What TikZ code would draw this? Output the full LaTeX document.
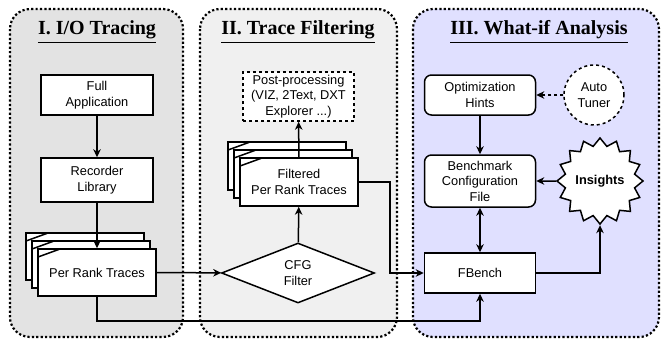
\documentclass[tikz,border=0pt]{standalone}
\usepackage{fontspec}
\setmainfont{Liberation Sans}
\newfontfamily\titleserif{Liberation Serif}
\usetikzlibrary{shapes.geometric,arrows.meta}
\definecolor{panelA}{RGB}{227,227,227}
\definecolor{panelB}{RGB}{240,240,240}
\definecolor{panelC}{RGB}{224,224,255}
\tikzset{
  panel/.style={rounded corners=20pt, line width=2.2pt, dash pattern=on 2.2pt off 2.2pt},
  ptitle/.style={font=\titleserif\bfseries\fontsize{20}{24}\selectfont, inner sep=0pt, anchor=base},
  box/.style={draw, fill=white, line width=1.5pt, align=center, inner sep=0pt,
    font=\fontsize{12.8}{15.5}\selectfont},
  rbox/.style={box, rounded corners=7pt},
  layer/.style={draw, fill=white, line width=1.5pt},
  arr/.style={line width=1.5pt, -{Stealth[length=8pt,width=7.5pt,inset=2.5pt]}},
  darr/.style={line width=1.5pt, {Stealth[length=8pt,width=7.5pt,inset=2.5pt]}-{Stealth[length=8pt,width=7.5pt,inset=2.5pt]}},
}
\begin{document}
\begin{tikzpicture}[x=1pt,y=-1pt]
\useasboundingbox (0,0) rectangle (661,340);
% panels
\draw[panel, fill=panelA] (10,9) rectangle (183,337);
\draw[panel, fill=panelB] (200,9) rectangle (397,337);
\draw[panel, fill=panelC] (413,9) rectangle (659,337);
% titles
\node[ptitle] (t1) at (97,34) {I. I/O Tracing};
\node[ptitle] (t2) at (298,34) {II. Trace Filtering};
\node[ptitle] (t3) at (539,34) {III. What-if Analysis};
\foreach \t in {t1,t2,t3}
  \draw[line width=1pt] ([yshift=-8pt]\t.base west) -- ([yshift=-8pt]\t.base east);
% panel I
\node[box, minimum width=112pt, minimum height=40pt] (fa) at (97,95) {Full\\Application};
\node[box, minimum width=112pt, minimum height=44pt] (rl) at (97,180) {Recorder\\Library};
\draw[layer] (26,233) rectangle (144,280);
\draw[line width=1.5pt] (26,241) -- (48,233);
\draw[layer] (32,241) rectangle (150,288);
\draw[line width=1.5pt] (32,249) -- (54,241);
\node[box, minimum width=118pt, minimum height=47pt] (prt) at (97,272.5) {Per Rank Traces};
\draw[line width=1.5pt] (38,257) -- (60,249);
% panel II
\node[box, dashed, dash pattern=on 3pt off 3pt, minimum width=111pt, minimum height=49pt] (pp) at (298.5,96.5) {Post-processing\\(VIZ, 2Text, DXT\\Explorer ...)};
\draw[layer] (228,142) rectangle (346,190);
\draw[line width=1.5pt] (228,150) -- (250,142);
\draw[layer] (234,150) rectangle (352,198);
\draw[line width=1.5pt] (234,158) -- (256,150);
\node[box, minimum width=118pt, minimum height=48pt] (fpt) at (299,182) {Filtered\\Per Rank Traces};
\draw[line width=1.5pt] (240,166) -- (262,158);
\node[box, diamond, aspect=2.5, minimum width=153pt, minimum height=60pt] (cfg) at (298,273) {CFG\\Filter};
% panel III
\node[rbox, minimum width=111pt, minimum height=40pt] (oh) at (480,95) {Optimization\\Hints};
\node[rbox, minimum width=111pt, minimum height=52pt] (bcf) at (480,181) {Benchmark\\Configuration\\File};
\node[box, minimum width=111pt, minimum height=40pt] (fb) at (480,273) {FBench};
\node[box, circle, dashed, dash pattern=on 3pt off 3pt, minimum size=60pt] (at) at (594,95) {Auto\\Tuner};
\node[box, star, star points=16, star point ratio=1.22, minimum size=86pt, font=\bfseries\fontsize{12.8}{15.5}\selectfont] (ins) at (600,181) {Insights};
% connectors
\coordinate (j1) at (390,273);
\coordinate (j2) at (480,321);
\draw[arr] (fa) -- (rl);
\draw[arr] (rl) -- (prt);
\draw[arr] (prt) -- (cfg);
\draw[arr] (cfg) -- (fpt);
\draw[arr] (fpt) -- (pp);
\draw[arr] (fpt.east) -| (j1) -- (fb.west);
\draw[arr] (prt.south) |- (j2) -- (fb.south);
\draw[arr] (oh) -- (bcf);
\draw[darr] (bcf) -- (fb);
\draw[arr, dashed, dash pattern=on 3pt off 3pt] (at.west) -- (oh.east);
\draw[arr] (ins.west) -- (bcf.east);
\draw[arr] (fb.east) -| (ins.south);
\end{tikzpicture}
\end{document}
